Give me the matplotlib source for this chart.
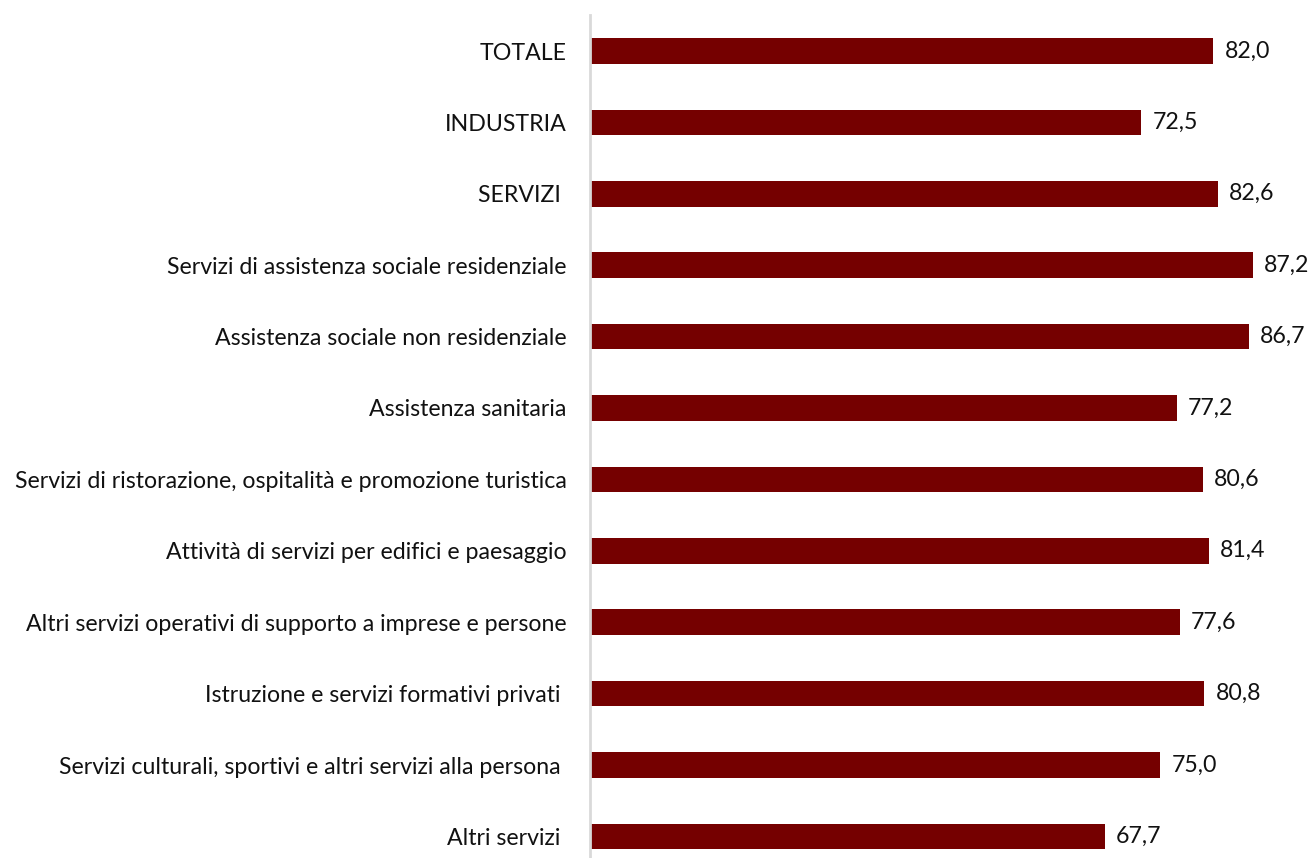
import matplotlib.pyplot as plt

categories = [
    "TOTALE",
    "INDUSTRIA",
    "SERVIZI ",
    "Servizi di assistenza sociale residenziale",
    "Assistenza sociale non residenziale",
    "Assistenza sanitaria",
    "Servizi di ristorazione, ospitalità e promozione turistica",
    "Attività di servizi per edifici e paesaggio",
    "Altri servizi operativi di supporto a imprese e persone",
    "Istruzione e servizi formativi privati ",
    "Servizi culturali, sportivi e altri servizi alla persona ",
    "Altri servizi ",
]
values = [82.0, 72.5, 82.6, 87.2, 86.7, 77.2, 80.6, 81.4, 77.6, 80.8, 75.0, 67.7]

plt.rcParams["font.family"] = ["Lato", "DejaVu Sans"]

fig = plt.figure(figsize=(13.11, 8.58), dpi=100)
W, H = 1311, 858
# plot area: axis line at x=590, categories spaced ~71.4px starting at y=51
step = 71.4
top = 51 - step / 2
bottom = top + step * len(categories)
ax = fig.add_axes([590 / W, 1 - bottom / H, (W - 590) / W, (bottom - top) / H])

y = list(range(len(categories)))
ax.barh(y, values, height=0.36, color="#750000")
ax.set_ylim(len(categories) - 0.5, -0.5)
ax.set_xlim(0, (W - 590) / 7.6)

for yi, v in zip(y, values):
    ax.text(v + 1.5, yi, f"{v:.1f}".replace(".", ","), va="center", ha="left",
            fontsize=16.7, color="#111111")

ax.set_yticks(y)
ax.set_yticklabels(categories, fontsize=16.7, color="#111111")
ax.tick_params(axis="y", length=0, pad=17)
ax.set_xticks([])
for s in ["top", "right", "bottom"]:
    ax.spines[s].set_visible(False)
ax.spines["left"].set_color("#d9d9d9")
ax.spines["left"].set_linewidth(2)

fig.savefig("out.png", dpi=100)
